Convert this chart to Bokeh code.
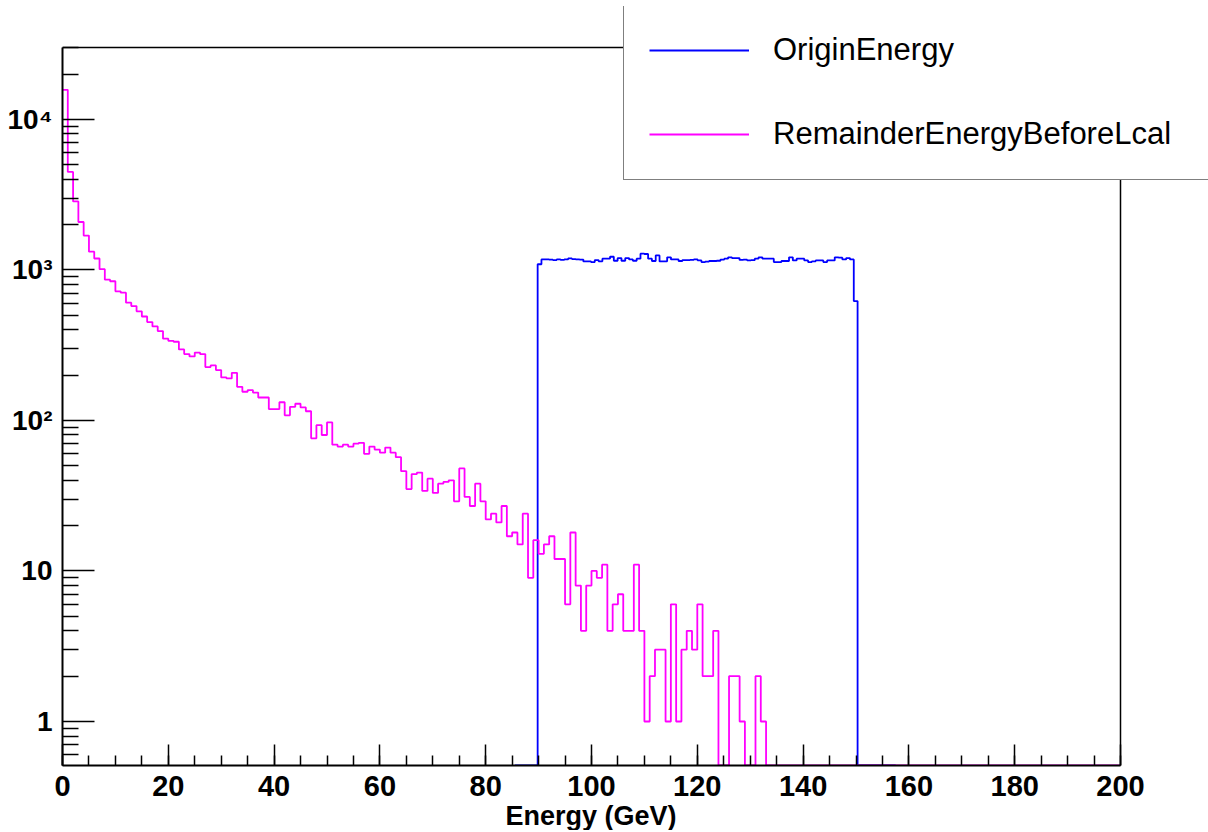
import numpy as np
from bokeh.plotting import figure
from bokeh.models import (Range1d, FixedTicker, CustomJSTickFormatter, Legend, LegendItem, Span, Title)
from bokeh.embed import file_html
from bokeh.resources import INLINE

# ---------------- data ----------------
# RemainderEnergyBeforeLcal: 200 bins of 1 GeV from 0 to 200 GeV
remainder_lo = 0.0
remainder_hi = 200.0
remainder_counts = [
    15700, 4470, 2850, 2080, 1690, 1320, 1190, 1010, 860, 840,
    720, 705, 605, 575, 530, 490, 450, 421, 392, 349,
    338, 333, 296, 276, 266, 282, 276, 226, 232, 216,
    193, 190, 207, 167, 155, 159, 153, 142, 142, 119,
    119, 132, 108, 123, 129, 122, 115, 76, 93, 80,
    97, 69, 67, 69, 67, 70, 71, 60, 67, 64,
    61, 66, 61, 57, 46, 35, 44, 45, 34, 41,
    33, 38, 39, 40, 29, 48, 31, 27, 38, 29,
    22, 24, 21, 27, 17, 18, 15, 24, 9, 16,
    13, 15, 17, 12, 12, 6, 18, 8, 4, 8,
    10, 9, 11, 4, 6, 7, 4, 4, 11, 4,
    1, 2, 3, 3, 1, 6, 1, 3, 4, 3,
    6, 2, 2, 4, 0, 0, 2, 2, 1, 0,
    0, 2, 1,
] + [0] * 67

# OriginEnergy: 100 bins from 85.5 to 157.5 GeV
origin_lo = 85.5
origin_hi = 157.5
origin_counts = [0] * 6 + [
    1090, 1174, 1174, 1168, 1162, 1174, 1165, 1174, 1192, 1180,
    1174, 1170, 1138, 1140, 1127, 1162, 1140, 1186, 1186, 1222,
    1150, 1198, 1150, 1198, 1174, 1150, 1186, 1281, 1275, 1186,
    1145, 1248, 1138, 1140, 1211, 1174, 1174, 1145, 1162, 1162,
    1165, 1174, 1156, 1127, 1135, 1145, 1145, 1150, 1170, 1186,
    1211, 1198, 1198, 1165, 1168, 1156, 1160, 1186, 1211, 1186,
    1186, 1186, 1127, 1127, 1145, 1145, 1211, 1156, 1186, 1186,
    1156, 1127, 1140, 1156, 1156, 1127, 1156, 1156, 1211, 1205,
    1174, 1198, 1174, 620,
] + [0] * 10

x_ticks = [0, 20, 40, 60, 80, 100, 120, 140, 160, 180, 200]
y_ticks = [1, 10, 100, 1000, 10000]
x_title = "Energy (GeV)"

X_MIN, X_MAX = 0, 200          # histogram frame
Y_MIN, Y_MAX = 0.51, 30000

# ---------------- layout ----------------
FRAME_W, FRAME_H = 1146, 759   # frame reaches the top/right canvas edge so the legend is not clipped
AX_W, AX_TOP = 1058, 718       # pixel size of the histogram frame itself
x_end = X_MAX * FRAME_W / AX_W
y_end = Y_MIN * 10 ** (np.log10(Y_MAX / Y_MIN) * FRAME_H / AX_TOP)

p = figure(frame_width=FRAME_W, frame_height=FRAME_H, y_axis_type="log",
           x_range=Range1d(X_MIN, x_end), y_range=Range1d(Y_MIN, y_end),
           output_backend="svg", toolbar_location=None,
           min_border_left=62, min_border_right=0,
           min_border_top=6, min_border_bottom=0)
p.background_fill_color = "white"
p.border_fill_color = "white"
p.grid.visible = False
p.outline_line_color = None


def step_xy(lo, hi, counts):
    c = np.asarray(counts, dtype=float)
    edges = np.linspace(lo, hi, len(c) + 1)
    vals = np.where(c > 0, c, Y_MIN)   # empty bins drawn on the frame bottom
    return edges, np.r_[vals, vals[-1]]


ex, ey = step_xy(origin_lo, origin_hi, origin_counts)
r_origin = p.step(ex, ey, mode="after", line_color="#0000ff", line_width=1.8)
rx, ry = step_xy(remainder_lo, remainder_hi, remainder_counts)
r_rem = p.step(rx, ry, mode="after", line_color="#ff00ff", line_width=1.8)

# top and right edges of the histogram frame
p.add_layout(Span(location=Y_MAX, dimension="width", line_color="black", line_width=1.5))
p.add_layout(Span(location=X_MAX, dimension="height", line_color="black", line_width=1.5))

FONT = "Liberation Sans"

# x axis
xa = p.xaxis[0]
xa.bounds = (X_MIN, X_MAX)
xa.ticker = FixedTicker(ticks=x_ticks, minor_ticks=list(range(0, 201, 5)))
xa.major_tick_in = 21
xa.major_tick_out = 0
xa.minor_tick_in = 10
xa.minor_tick_out = 0
xa.axis_line_width = 2
xa.major_tick_line_width = 1.5
xa.minor_tick_line_width = 1.5
xa.major_label_text_font = FONT
xa.major_label_text_font_size = "29px"
xa.major_label_text_font_style = "bold"
xa.major_label_text_color = "black"
xa.major_label_standoff = 10

# x axis title, centred under the histogram frame (not under the wider drawing area)
p.add_layout(Title(text=x_title, align="left", offset=443, standoff=0,
                   text_font=FONT, text_font_size="27px", text_font_style="bold",
                   text_color="black"), "below")

# y axis
minor_y = [0.6, 0.7, 0.8, 0.9]
for d in [1, 10, 100, 1000]:
    minor_y += [d * k for k in range(2, 10)]
minor_y += [20000, 30000]
ya = p.yaxis[0]
ya.bounds = (Y_MIN, Y_MAX)
ya.ticker = FixedTicker(ticks=y_ticks, minor_ticks=minor_y)
ya.formatter = CustomJSTickFormatter(code="""
const e = Math.round(Math.log10(tick));
const sup = {2: "\u00b2", 3: "\u00b3", 4: "\u2074", 5: "\u2075"};
if (e <= 0) return "1";
if (e == 1) return "10";
return "10" + sup[e];
""")
ya.major_tick_in = 32
ya.major_tick_out = 0
ya.minor_tick_in = 16
ya.minor_tick_out = 0
ya.axis_line_width = 2
ya.major_tick_line_width = 1.5
ya.minor_tick_line_width = 1.5
ya.major_label_text_font = FONT
ya.major_label_text_font_size = "28px"
ya.major_label_text_font_style = "bold"
ya.major_label_text_color = "black"
ya.major_label_standoff = 10

legend = Legend(items=[LegendItem(label="OriginEnergy", renderers=[r_origin]),
                       LegendItem(label="RemainderEnergyBeforeLcal", renderers=[r_rem])],
                location=(561, 585), orientation="vertical",
                padding=25, spacing=44, margin=0,
                glyph_width=100, glyph_height=20, label_height=40, label_width=440,
                label_standoff=24,
                label_text_font=FONT, label_text_font_size="31px",
                label_text_color="black",
                border_line_color="black", border_line_width=1.5,
                background_fill_color="white", background_fill_alpha=1.0)
p.add_layout(legend, "center")

open("out.html", "w").write(file_html(p, INLINE))
